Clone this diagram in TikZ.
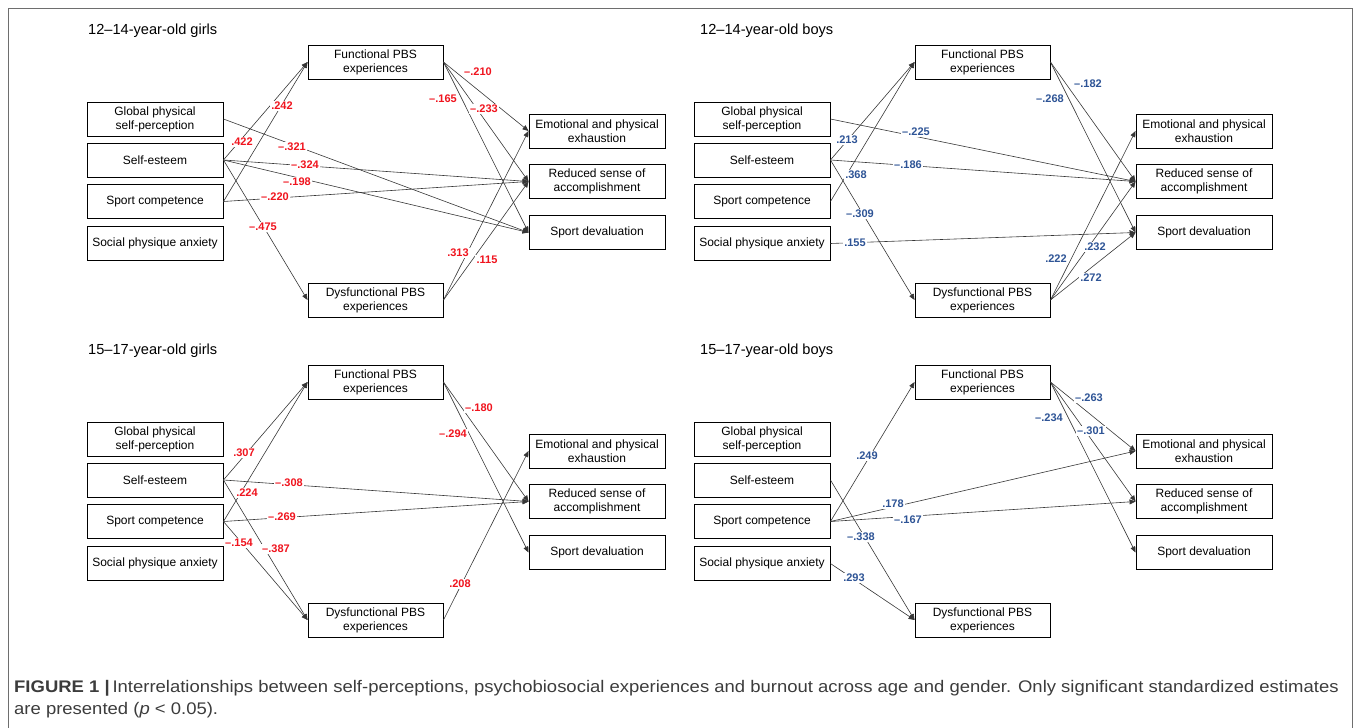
\documentclass[tikz,border=0pt]{standalone}
\usepackage{fontspec}
\setmainfont{Liberation Sans}
\newfontfamily\capfont[FakeStretch=1.1]{Liberation Sans}
\usetikzlibrary{arrows.meta}
\definecolor{lr}{RGB}{240,20,30}
\definecolor{lb}{RGB}{46,84,150}
\definecolor{ln}{RGB}{55,55,55}
\definecolor{fr}{RGB}{110,110,110}
\definecolor{capc}{RGB}{60,60,60}
\newcommand\mkpanel[5]{%
  \node[ttl] (#1-t) at (#4,31+#3) {#5};
  \node[lbox] (#1-gp)  at (155+#2,119+#3) {Global physical\\self-perception};
  \node[lbox] (#1-se)  at (155+#2,160+#3) {Self-esteem};
  \node[lbox] (#1-sc)  at (155+#2,201.5+#3) {Sport competence};
  \node[lbox] (#1-spa) at (155+#2,243.5+#3) {Social physique anxiety};
  \node[mbox] (#1-fn)  at (375.5+#2,62+#3) {Functional PBS\\experiences};
  \node[mbox] (#1-dy)  at (375.5+#2,300+#3) {Dysfunctional PBS\\experiences};
  \node[lbox] (#1-em)  at (597+#2,131+#3) {Emotional and physical\\exhaustion};
  \node[lbox] (#1-rs)  at (597+#2,181.5+#3) {Reduced sense of\\accomplishment};
  \node[lbox] (#1-sd)  at (597+#2,232.5+#3) {Sport devaluation};
}
\begin{document}
\begin{tikzpicture}[x=1pt,y=-1pt,
  box/.style={draw=black,line width=0.9pt,fill=white,align=center,
    font=\fontsize{12}{14}\selectfont,inner sep=0pt,minimum height=34pt},
  lbox/.style={box,minimum width=136pt},
  mbox/.style={box,minimum width=135pt},
  ttl/.style={anchor=west,font=\fontsize{14.6}{16}\selectfont,inner sep=0pt},
  arr/.style={draw=ln,line width=0.6pt,-{Triangle[length=6pt,width=5pt]}},
  lab/.style={fill=white,inner sep=1.2pt,font=\fontsize{11}{13}\selectfont\bfseries},
  labr/.style={lab,text=lr},
  labb/.style={lab,text=lb},
  captxt/.style={anchor=base west,inner sep=0pt,text=capc,font=\capfont\fontsize{16.8}{20}\selectfont}]
\useasboundingbox (0,0) rectangle (1358,728);
\draw[fr,line width=0.8pt] (8,728) -- (8,8) -- (1352,8) -- (1352,728);

\mkpanel{a}{0}{0}{88}{12--14-year-old girls}
\mkpanel{b}{607}{0}{700}{12--14-year-old boys}
\mkpanel{c}{0}{320}{88}{15--17-year-old girls}
\mkpanel{d}{607}{320}{700}{15--17-year-old boys}

% panel a
\draw[arr] (a-se.east) -- (a-fn.west);
\draw[arr] (a-sc.east) -- (a-fn.west);
\draw[arr] (a-se.east) -- (a-dy.west);
\draw[arr] (a-gp.east) -- (a-sd.west);
\draw[arr] (a-se.east) -- (a-rs.west);
\draw[arr] (a-se.east) -- (a-sd.west);
\draw[arr] (a-sc.east) -- (a-rs.west);
\draw[arr] (a-fn.east) -- (a-em.west);
\draw[arr] (a-fn.east) -- (a-rs.west);
\draw[arr] (a-fn.east) -- (a-sd.west);
\draw[arr] (a-dy.east) -- (a-em.west);
\draw[arr] (a-dy.east) -- (a-rs.west);
\node[labr] (a-l1) at (242,142) {.422};
\node[labr] (a-l2) at (282,106) {.242};
\node[labr] (a-l3) at (292,147) {--.321};
\node[labr] (a-l4) at (305,165) {--.324};
\node[labr] (a-l5) at (297,182) {--.198};
\node[labr] (a-l6) at (275,197) {--.220};
\node[labr] (a-l7) at (263,227) {--.475};
\node[labr] (a-l8) at (478,72) {--.210};
\node[labr] (a-l9) at (443,99) {--.165};
\node[labr] (a-l10) at (484,109) {--.233};
\node[labr] (a-l11) at (458,253) {.313};
\node[labr] (a-l12) at (487,260) {.115};

% panel b
\draw[arr] (b-se.east) -- (b-fn.west);
\draw[arr] (b-sc.east) -- (b-fn.west);
\draw[arr] (b-se.east) -- (b-dy.west);
\draw[arr] (b-gp.east) -- (b-rs.west);
\draw[arr] (b-se.east) -- (b-rs.west);
\draw[arr] (b-spa.east) -- (b-sd.west);
\draw[arr] (b-fn.east) -- (b-rs.west);
\draw[arr] (b-fn.east) -- (b-sd.west);
\draw[arr] (b-dy.east) -- (b-em.west);
\draw[arr] (b-dy.east) -- (b-rs.west);
\draw[arr] (b-dy.east) -- (b-sd.west);
\node[labb] (b-l1) at (847,140) {.213};
\node[labb] (b-l2) at (856,175) {.368};
\node[labb] (b-l3) at (860,214) {--.309};
\node[labb] (b-l4) at (916,132) {--.225};
\node[labb] (b-l5) at (908,165) {--.186};
\node[labb] (b-l6) at (855,243) {.155};
\node[labb] (b-l7) at (1088,84) {--.182};
\node[labb] (b-l8) at (1050,99) {--.268};
\node[labb] (b-l9) at (1056,259) {.222};
\node[labb] (b-l10) at (1095,247) {.232};
\node[labb] (b-l11) at (1091,278) {.272};

% panel c
\draw[arr] (c-se.east) -- (c-fn.west);
\draw[arr] (c-sc.east) -- (c-fn.west);
\draw[arr] (c-se.east) -- (c-rs.west);
\draw[arr] (c-sc.east) -- (c-rs.west);
\draw[arr] (c-sc.east) -- (c-dy.west);
\draw[arr] (c-se.east) -- (c-dy.west);
\draw[arr] (c-fn.east) -- (c-rs.west);
\draw[arr] (c-fn.east) -- (c-sd.west);
\draw[arr] (c-dy.east) -- (c-em.west);
\node[labr] (c-l1) at (244,453) {.307};
\node[labr] (c-l2) at (247,493) {.224};
\node[labr] (c-l3) at (289,483) {--.308};
\node[labr] (c-l4) at (282,517) {--.269};
\node[labr] (c-l5) at (239,543) {--.154};
\node[labr] (c-l6) at (276,549) {--.387};
\node[labr] (c-l7) at (479,408) {--.180};
\node[labr] (c-l8) at (453,434) {--.294};
\node[labr] (c-l9) at (460,584) {.208};

% panel d
\draw[arr] (d-sc.east) -- (d-fn.west);
\draw[arr] (d-se.east) -- (d-dy.west);
\draw[arr] (d-spa.east) -- (d-dy.west);
\draw[arr] (d-sc.east) -- (d-em.west);
\draw[arr] (d-sc.east) -- (d-rs.west);
\draw[arr] (d-fn.east) -- (d-em.west);
\draw[arr] (d-fn.east) -- (d-rs.west);
\draw[arr] (d-fn.east) -- (d-sd.west);
\node[labb] (d-l1) at (867,456) {.249};
\node[labb] (d-l2) at (861,537) {--.338};
\node[labb] (d-l3) at (854,578) {.293};
\node[labb] (d-l4) at (893,504) {.178};
\node[labb] (d-l5) at (908,520) {--.167};
\node[labb] (d-l6) at (1089,398) {--.263};
\node[labb] (d-l7) at (1091,431) {--.301};
\node[labb] (d-l8) at (1049,418) {--.234};

% caption
\node[captxt] (cap1) at (14,692)
  {{\bfseries FIGURE 1 |}\,Interrelationships between self-perceptions, psychobiosocial experiences and burnout across age and gender. Only significant standardized estimates};
\node[captxt] (cap2) at (14,714)
  {are presented (\textit{p} < 0.05).};
\end{tikzpicture}
\end{document}
